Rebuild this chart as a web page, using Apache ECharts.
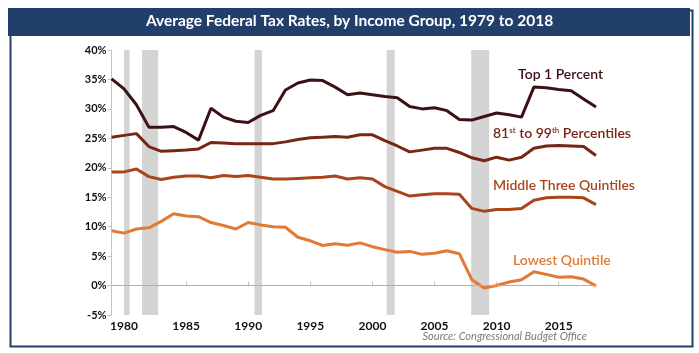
<!DOCTYPE html>
<html>
<head>
<meta charset="utf-8">
<script src="https://cdn.jsdelivr.net/npm/echarts@6/dist/echarts.min.js"></script>
<style>
  html, body { margin: 0; padding: 0; background: #fff; }
  #chart { width: 699px; height: 353px; }
</style>
</head>
<body>
<div id="chart"></div>
<script>
// years 1979 .. 2018
var years = [];
for (var y = 1979; y <= 2018; y++) years.push(y);

var top1 = [35.1, 33.4, 30.7, 26.9, 26.9, 27.0, 26.0, 24.7, 30.1, 28.6,
  27.9, 27.7, 28.9, 29.7, 33.2, 34.4, 34.9, 34.8, 33.7, 32.4,
  32.7, 32.4, 32.1, 31.9, 30.4, 30.0, 30.2, 29.7, 28.2, 28.1,
  28.7, 29.3, 29.0, 28.6, 33.7, 33.6, 33.3, 33.1, 31.7, 30.3];
var pct81to99 = [25.2, 25.5, 25.8, 23.6, 22.8, 22.9, 23.0, 23.2, 24.3, 24.2,
  24.1, 24.1, 24.1, 24.1, 24.4, 24.8, 25.1, 25.2, 25.3, 25.2,
  25.6, 25.6, 24.6, 23.7, 22.7, 23.0, 23.3, 23.3, 22.6, 21.7,
  21.2, 21.8, 21.3, 21.8, 23.3, 23.7, 23.8, 23.7, 23.6, 22.1];
var middle3 = [19.3, 19.3, 19.8, 18.5, 18.0, 18.4, 18.6, 18.6, 18.3, 18.7,
  18.5, 18.7, 18.4, 18.1, 18.1, 18.2, 18.3, 18.4, 18.6, 18.1,
  18.3, 18.1, 16.8, 16.0, 15.2, 15.4, 15.6, 15.6, 15.5, 13.1,
  12.6, 12.9, 12.9, 13.1, 14.5, 14.9, 15.0, 15.0, 14.9, 13.75];
var lowest = [9.3, 8.9, 9.6, 9.8, 10.9, 12.2, 11.8, 11.7, 10.7, 10.2,
  9.6, 10.7, 10.3, 10.0, 9.9, 8.2, 7.6, 6.8, 7.1, 6.85,
  7.25, 6.6, 6.1, 5.65, 5.8, 5.3, 5.5, 5.9, 5.4, 1.0,
  -0.4, 0.0, 0.6, 1.0, 2.35, 1.9, 1.4, 1.5, 1.1, -0.05];

var xLabels = [1980, 1985, 1990, 1995, 2000, 2005, 2010, 2015];
// recessions (start, end) in fractional years
var recessions = [[1980.0, 1980.45], [1981.45, 1982.75], [1990.5, 1991.1], [2001.15, 2001.8], [2007.95, 2009.4]];

var colors = ['#3c1114', '#762612', '#a8461b', '#e07a35'];

function pairs(arr) {
  return years.map(function (yr, i) { return [yr, arr[i]]; });
}

var chart = echarts.init(document.getElementById('chart'));

var font = 'Lato, "Open Sans", sans-serif';

chart.setOption({
  animation: false,
  grid: { left: 111.6, right: 103, top: 50, bottom: 38 },
  xAxis: {
    type: 'value',
    min: 1979,
    max: 2018,
    axisLine: { show: true, lineStyle: { color: '#c4c4c4', width: 1 } },
    axisTick: { show: true, inside: true, length: 4, customValues: xLabels, lineStyle: { color: '#c4c4c4' } },
    axisLabel: {
      customValues: xLabels,
      color: '#111',
      fontFamily: font,
      fontWeight: 'bold',
      fontSize: 12,
      margin: 5,
      formatter: function (v) { return String(v); }
    },
    splitLine: { show: false }
  },
  yAxis: {
    type: 'value',
    min: -5,
    max: 40,
    interval: 5,
    axisLine: { show: true, lineStyle: { color: '#c4c4c4', width: 1 } },
    axisTick: { show: true, length: 4, lineStyle: { color: '#c4c4c4' } },
    axisLabel: {
      color: '#111',
      fontFamily: font,
      fontWeight: 'bold',
      fontSize: 11,
      margin: 5,
      formatter: '{value}%'
    },
    splitLine: { show: false }
  },
  series: [
    {
      type: 'line', data: pairs(lowest), symbol: 'none', z: 3,
      lineStyle: { color: colors[3], width: 3 },
      markArea: {
        silent: true,
        itemStyle: { color: '#d4d4d4' },
        data: recessions.map(function (r) { return [{ xAxis: r[0] }, { xAxis: r[1] }]; })
      },
      markLine: {
        silent: true, symbol: 'none', label: { show: false },
        lineStyle: { color: '#b0b0b0', width: 1, type: 'solid' },
        data: [{ yAxis: 0 }]
      }
    },
    { type: 'line', data: pairs(middle3), symbol: 'none', z: 3, lineStyle: { color: colors[2], width: 3 } },
    { type: 'line', data: pairs(pct81to99), symbol: 'none', z: 3, lineStyle: { color: colors[1], width: 3 } },
    { type: 'line', data: pairs(top1), symbol: 'none', z: 3, lineStyle: { color: colors[0], width: 3 } }
  ],
  graphic: [
    {
      type: 'rect', left: 8, top: 8, z: 0, silent: true,
      shape: { width: 682, height: 336 },
      style: { fill: 'none', stroke: '#223f6b', lineWidth: 2 }
    },
    {
      type: 'rect', left: 8, top: 8, z: 1, silent: true,
      shape: { width: 682, height: 28 },
      style: { fill: '#223f6b' }
    },
    {
      type: 'text', left: 'center', top: 13, z: 2, silent: true,
      style: { text: 'Average Federal Tax Rates, by Income Group, 1979 to 2018', fill: '#fff', font: 'bold 15.5px ' + font }
    },
    {
      type: 'text', left: 518, top: 67, z: 5, silent: true,
      style: { text: 'Top 1 Percent', fill: colors[0], font: '600 14px ' + font }
    },
    {
      type: 'text', left: 493, top: 126, z: 5, silent: true,
      style: {
        text: '{n|81}{s|st}{n| to 99}{s|th}{n| Percentiles}',
        rich: {
          n: { fill: colors[1], font: '600 14px ' + font, verticalAlign: 'bottom' },
          s: { fill: colors[1], font: '600 8px ' + font, verticalAlign: 'top', padding: [0, 0, 6, 0] }
        }
      }
    },
    {
      type: 'text', left: 493, top: 178, z: 5, silent: true,
      style: { text: 'Middle Three Quintiles', fill: colors[2], font: '600 14px ' + font }
    },
    {
      type: 'text', left: 513, top: 253, z: 5, silent: true,
      style: { text: 'Lowest Quintile', fill: colors[3], font: '600 14px ' + font }
    },
    {
      type: 'text', right: 112, top: 331, z: 5, silent: true,
      style: { text: 'Source: Congressional Budget Office', fill: '#7a7a7a', font: 'italic 11px ' + font }
    }
  ]
});
</script>
</body>
</html>
